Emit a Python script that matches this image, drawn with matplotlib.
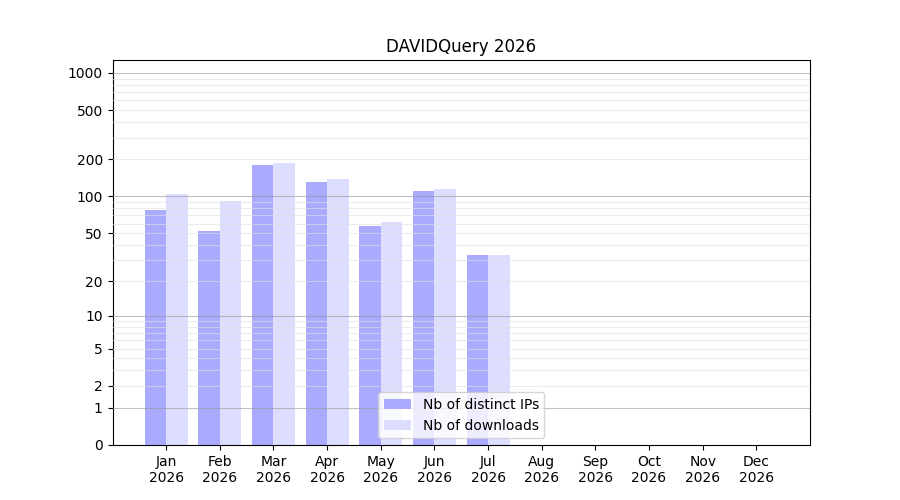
import numpy as np
import matplotlib
matplotlib.use("Agg")
from matplotlib import pyplot as plt

months = ['Jan', 'Feb', 'Mar', 'Apr', 'May', 'Jun', 'Jul', 'Aug', 'Sep', 'Oct', 'Nov', 'Dec']
year = '2026'
distinct_ips = [78, 52, 180, 131, 57, 111, 33, 0, 0, 0, 0, 0]
downloads = [105, 92, 187, 139, 62, 115, 33, 0, 0, 0, 0, 0]

yticks = [0, 1, 2, 5, 10, 20, 50, 100, 200, 500, 1000]


def fwd(y):
    return np.log10(1 + np.clip(y, 0, None))


def inv(y):
    return 10 ** y - 1


fig, ax = plt.subplots(figsize=(9, 5), dpi=100)
ax.set_yscale('function', functions=(fwd, inv))

x = np.arange(1, len(months) + 1)
w = 0.4
ax.bar(x - w / 2, distinct_ips, width=w, color='#aaaaff', label='Nb of distinct IPs', zorder=2)
ax.bar(x + w / 2, downloads, width=w, color='#ddddff', label='Nb of downloads', zorder=2)

# grid lines: light for 2..9 multiples, darker for decades
for dec in [1, 10, 100, 1000]:
    for m in range(2, 10):
        ax.axhline(dec * m, color='#e0e0e0', lw=0.8, alpha=0.6, zorder=3)
    ax.axhline(dec, color='#999999', lw=0.8, alpha=0.6, zorder=3)

ax.set_yticks(yticks)
ax.set_yticklabels([str(t) for t in yticks])
ax.minorticks_off()
ax.set_ylim(0, 1272)
ax.set_xlim(0, 13)
ax.set_xticks(x)
ax.set_xticklabels([m + '\n' + year for m in months])
ax.set_title('DAVIDQuery 2026')
ax.legend(loc='lower center')

fig.savefig('out.png')
